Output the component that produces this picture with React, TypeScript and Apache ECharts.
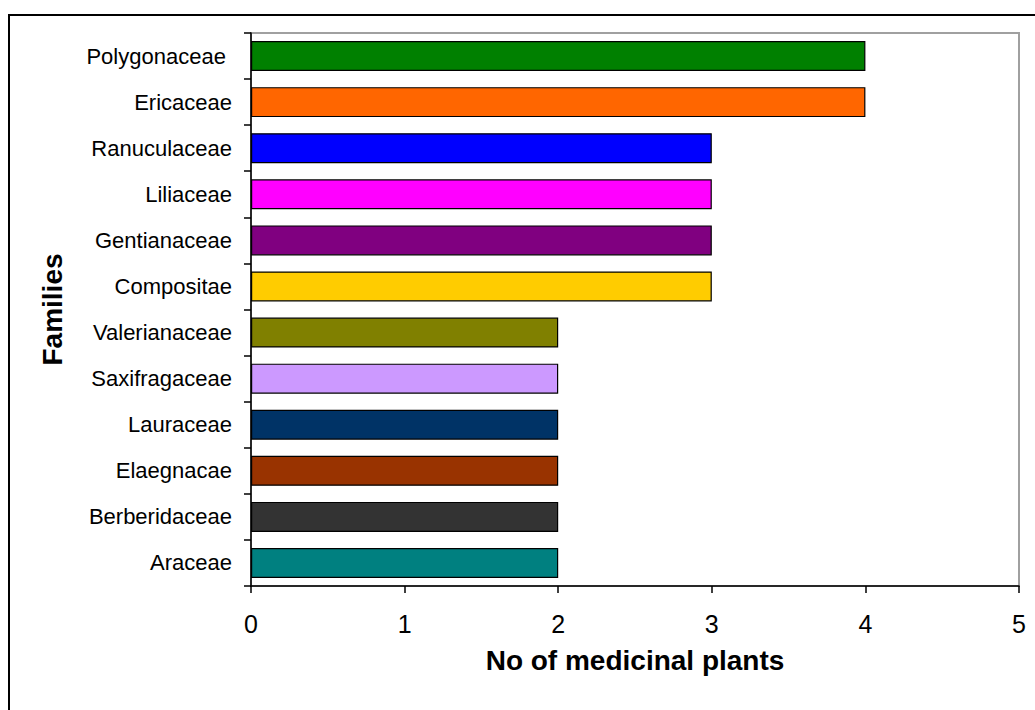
import React, { useEffect, useRef } from "react";
import * as echarts from "echarts";

// Plant families, top to bottom, with number of medicinal plants in each
const families = [
  "Polygonaceae ",
  "Ericaceae",
  "Ranuculaceae",
  "Liliaceae",
  "Gentianaceae",
  "Compositae",
  "Valerianaceae",
  "Saxifragaceae",
  "Lauraceae",
  "Elaegnacae",
  "Berberidaceae",
  "Araceae",
];
const plantCounts = [4, 4, 3, 3, 3, 3, 2, 2, 2, 2, 2, 2];
const barColors = [
  "#008000",
  "#FF6600",
  "#0000FF",
  "#FF00FF",
  "#800080",
  "#FFCC00",
  "#808000",
  "#CC99FF",
  "#003366",
  "#993300",
  "#333333",
  "#008080",
];
const xTicks = [0, 1, 2, 3, 4, 5];

const FONT = '"Liberation Sans", Arial, Helvetica, sans-serif';

export default function App() {
  const ref = useRef<HTMLDivElement>(null);

  useEffect(() => {
    if (!ref.current) return;
    const chart = echarts.init(ref.current, null, { renderer: "svg" });
    chart.setOption({
      animation: false,
      backgroundColor: "#ffffff",
      textStyle: { fontFamily: FONT, color: "#000" },
      graphic: [
        {
          type: "rect",
          shape: { x: 9, y: 15, width: 1100, height: 800 },
          style: { fill: "none", stroke: "#000", lineWidth: 2 },
          silent: true,
        },
      ],
      grid: {
        left: 251,
        top: 33,
        right: 16,
        bottom: 124,
        show: true,
        borderColor: "#a0a0a0",
        borderWidth: 2,
        backgroundColor: "transparent",
      },
      xAxis: {
        type: "value",
        min: xTicks[0],
        max: xTicks[xTicks.length - 1],
        interval: 1,
        name: "No of medicinal plants",
        nameLocation: "middle",
        nameGap: 60,
        nameTextStyle: { fontFamily: FONT, fontSize: 28, fontWeight: "bold", color: "#000" },
        axisLine: { show: true, lineStyle: { color: "#000", width: 1.5 } },
        axisTick: { show: true, length: 7, lineStyle: { color: "#000", width: 1.5 } },
        axisLabel: { fontFamily: FONT, fontSize: 25, color: "#000", margin: 25 },
        splitLine: { show: false },
      },
      yAxis: {
        type: "category",
        data: families,
        inverse: true,
        name: "Families",
        nameLocation: "middle",
        nameRotate: 90,
        nameGap: 185,
        nameTextStyle: { fontFamily: FONT, fontSize: 28, fontWeight: "bold", color: "#000" },
        axisLine: { show: true, lineStyle: { color: "#000", width: 1.5 } },
        axisTick: { show: true, length: 7, lineStyle: { color: "#000", width: 1.5 } },
        axisLabel: { fontFamily: FONT, fontSize: 22, color: "#000", margin: 19 },
        splitLine: { show: false },
      },
      series: [
        {
          type: "bar",
          data: plantCounts.map((v, i) => ({
            value: v,
            itemStyle: { color: barColors[i] },
          })),
          barWidth: 30,
          itemStyle: { borderColor: "#000", borderWidth: 1.2 },
        },
      ],
    });
    return () => chart.dispose();
  }, []);

  return (
    <div
      ref={ref}
      style={{ position: "fixed", left: 0, top: 0, width: 1035, height: 710 }}
    />
  );
}
